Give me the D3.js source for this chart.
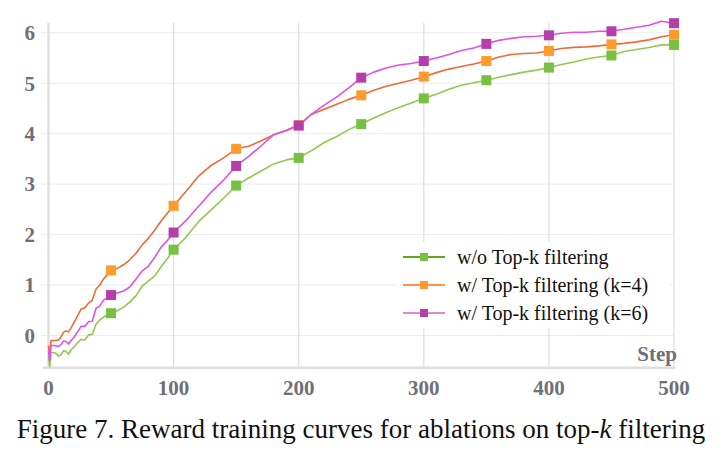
<!DOCTYPE html>
<html lang="en">
<head>
    <meta charset="UTF-8">
    <title>Reward training curves</title>
    <style>
        body, html {
            margin: 0;
            padding: 0;
            background: #ffffff;
        }
        svg {
            display: block;
        }
        .tick-label {
            font-family: 'Liberation Serif', 'Times New Roman', serif;
            font-weight: bold;
            font-size: 21px;
            fill: #6e7079;
        }
        .legend-text {
            font-family: 'Liberation Serif', 'Times New Roman', serif;
            font-size: 20px;
            fill: #111;
        }
        .caption {
            font-family: 'Liberation Serif', 'Times New Roman', serif;
            font-size: 27px;
            fill: #111;
        }
    </style>
</head>
<body>
    <div id="chart"></div>

    <script src="https://d3js.org/d3.v7.min.js"></script>
    <script>
        // Training steps (shared by all series)
        const steps = [0, 1, 2, 4, 6, 8, 10, 12, 14, 16, 18, 20, 23, 26, 29, 32, 35, 38, 41, 44, 47, 50,
            55, 60, 65, 70, 75, 80, 85, 90, 95, 100,
            110, 120, 130, 140, 150, 160, 170, 180, 190, 200,
            210, 220, 230, 240, 250, 260, 270, 280, 290, 300,
            310, 320, 330, 340, 350, 360, 370, 380, 390, 400,
            410, 420, 430, 440, 450, 460, 470, 480, 490, 500];

        // Reward values
        const noTopK = [-0.40, -0.62, -0.34, -0.34, -0.36, -0.41, -0.39, -0.30, -0.32, -0.37, -0.29, -0.24, -0.15, -0.08, -0.09, 0.01, 0.02, 0.22, 0.31, 0.36, 0.41, 0.44,
            0.49, 0.56, 0.66, 0.79, 0.98, 1.08, 1.18, 1.36, 1.52, 1.70,
            1.95, 2.26, 2.49, 2.72, 2.97, 3.12, 3.26, 3.40, 3.48, 3.52,
            3.66, 3.82, 3.94, 4.08, 4.19, 4.31, 4.42, 4.52, 4.61, 4.70,
            4.78, 4.88, 4.96, 5.01, 5.06, 5.12, 5.17, 5.22, 5.26, 5.31,
            5.37, 5.42, 5.48, 5.52, 5.55, 5.63, 5.67, 5.71, 5.76, 5.76];

        const topK4 = [-0.20, -0.45, -0.10, -0.10, -0.10, -0.09, -0.03, 0.06, 0.09, 0.07, 0.15, 0.24, 0.38, 0.52, 0.55, 0.64, 0.70, 0.92, 1.00, 1.12, 1.20, 1.29,
            1.33, 1.40, 1.50, 1.63, 1.80, 1.93, 2.09, 2.27, 2.42, 2.57,
            2.86, 3.16, 3.37, 3.52, 3.70, 3.75, 3.86, 3.98, 4.07, 4.17,
            4.38, 4.48, 4.58, 4.68, 4.76, 4.86, 4.94, 5.00, 5.06, 5.13,
            5.21, 5.28, 5.33, 5.38, 5.44, 5.52, 5.57, 5.59, 5.60, 5.64,
            5.69, 5.71, 5.72, 5.74, 5.77, 5.79, 5.82, 5.86, 5.92, 5.96];

        const topK6 = [-0.30, -0.50, -0.20, -0.20, -0.21, -0.22, -0.18, -0.11, -0.12, -0.17, -0.10, -0.05, 0.06, 0.18, 0.18, 0.27, 0.28, 0.54, 0.58, 0.70, 0.75, 0.80,
            0.84, 0.88, 0.96, 1.12, 1.28, 1.38, 1.55, 1.75, 1.88, 2.04,
            2.28, 2.56, 2.84, 3.08, 3.36, 3.55, 3.76, 3.98, 4.06, 4.16,
            4.38, 4.56, 4.72, 4.91, 5.11, 5.22, 5.30, 5.36, 5.39, 5.44,
            5.50, 5.57, 5.65, 5.70, 5.78, 5.85, 5.89, 5.92, 5.93, 5.95,
            5.99, 6.01, 6.01, 6.03, 6.03, 6.07, 6.11, 6.15, 6.23, 6.19];

        const markerSteps = [50, 100, 150, 200, 250, 300, 350, 400, 450, 500];
        const xTicks = [0, 100, 200, 300, 400, 500];
        const yTicks = [0, 1, 2, 3, 4, 5, 6];

        const series = [
            {name: "w/o Top-k filtering", values: noTopK, line: "#92c84e", marker: "#78c044", legendLine: "#5ea81a"},
            {name: "w/ Top-k filtering (k=4)", values: topK4, line: "#ec6c38", marker: "#ff9a2c", legendLine: "#ff9448"},
            {name: "w/ Top-k filtering (k=6)", values: topK6, line: "#e052e6", marker: "#b53fa8", legendLine: "#d98ad9"}
        ];

        const width = 722;
        const height = 458;

        const svg = d3.select("#chart")
            .append("svg")
            .attr("width", width)
            .attr("height", height);

        const x = d3.scaleLinear().domain([0, 500]).range([48.5, 674]);
        const y = d3.scaleLinear().domain([-0.64, 6.2]).range([367.7, 22.7]);

        // Horizontal grid
        svg.append("g")
            .selectAll("line")
            .data(yTicks)
            .join("line")
            .attr("x1", 41)
            .attr("x2", x(500))
            .attr("y1", d => y(d))
            .attr("y2", d => y(d))
            .attr("stroke", "#ebebeb")
            .attr("stroke-width", 1);

        // Vertical grid
        svg.append("g")
            .selectAll("line")
            .data(xTicks.filter(d => d > 0))
            .join("line")
            .attr("x1", d => x(d))
            .attr("x2", d => x(d))
            .attr("y1", y.range()[1])
            .attr("y2", y.range()[0])
            .attr("stroke", "#e0e0e0")
            .attr("stroke-width", 1.3);

        // Axis lines
        svg.append("line")
            .attr("x1", x(0)).attr("x2", x(0))
            .attr("y1", y.range()[1]).attr("y2", y.range()[0])
            .attr("stroke", "#dedede").attr("stroke-width", 2.4);
        svg.append("line")
            .attr("x1", 43).attr("x2", x(500) + 1)
            .attr("y1", y.range()[0]).attr("y2", y.range()[0])
            .attr("stroke", "#dedede").attr("stroke-width", 2.4);

        // Tick labels
        svg.append("g")
            .selectAll("text")
            .data(yTicks)
            .join("text")
            .attr("class", "tick-label")
            .attr("x", 35)
            .attr("y", d => y(d))
            .attr("dy", "0.35em")
            .attr("text-anchor", "end")
            .text(d => d);

        svg.append("g")
            .selectAll("text")
            .data(xTicks)
            .join("text")
            .attr("class", "tick-label")
            .attr("x", d => x(d))
            .attr("y", 395)
            .attr("text-anchor", "middle")
            .text(d => d);

        svg.append("text")
            .attr("class", "tick-label")
            .attr("x", 677)
            .attr("y", 361)
            .attr("text-anchor", "end")
            .text("Step");

        // Lines
        const line = d3.line()
            .x((d, i) => x(steps[i]))
            .y(d => y(d));

        series.forEach(s => {
            svg.append("path")
                .datum(s.values)
                .attr("fill", "none")
                .attr("stroke", s.line)
                .attr("stroke-width", 1.6)
                .attr("stroke-linejoin", "round")
                .attr("d", line);
        });

        // Square markers every 50 steps
        const ms = 10;
        series.forEach(s => {
            svg.append("g")
                .selectAll("rect")
                .data(markerSteps)
                .join("rect")
                .attr("x", d => x(d) - ms / 2)
                .attr("y", d => y(s.values[steps.indexOf(d)]) - ms / 2)
                .attr("width", ms)
                .attr("height", ms)
                .attr("fill", s.marker);
        });

        // Legend
        const legend = svg.append("g");
        legend.append("rect")
            .attr("x", 396).attr("y", 242)
            .attr("width", 274).attr("height", 86)
            .attr("fill", "#ffffff");

        const rows = legend.selectAll("g.row")
            .data(series)
            .join("g")
            .attr("class", "row")
            .attr("transform", (d, i) => `translate(0, ${257 + i * 28})`);

        rows.append("line")
            .attr("x1", 403).attr("x2", 445)
            .attr("y1", 0).attr("y2", 0)
            .attr("stroke", d => d.legendLine)
            .attr("stroke-width", 2);

        rows.append("rect")
            .attr("x", 424 - 4).attr("y", -4)
            .attr("width", 8).attr("height", 8)
            .attr("fill", d => d.marker);

        rows.append("text")
            .attr("class", "legend-text")
            .attr("x", 457)
            .attr("y", 0)
            .attr("dy", "0.35em")
            .text(d => d.name);

        // Caption
        const caption = svg.append("text")
            .attr("class", "caption")
            .attr("x", 361)
            .attr("y", 438)
            .attr("text-anchor", "middle");
        caption.append("tspan").text("Figure 7. Reward training curves for ablations on top-");
        caption.append("tspan").attr("font-style", "italic").text("k");
        caption.append("tspan").text(" filtering");
    </script>
</body>
</html>
